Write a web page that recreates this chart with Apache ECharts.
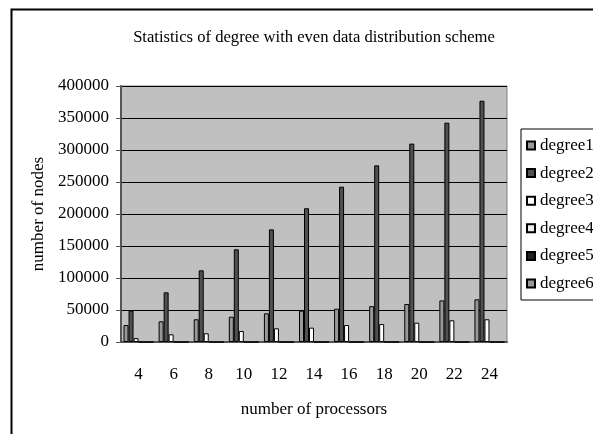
<!DOCTYPE html>
<html>
<head>
<meta charset="utf-8">
<script src="https://cdn.jsdelivr.net/npm/echarts@6/dist/echarts.min.js"></script>
<style>
html,body{margin:0;padding:0;background:#fff;}
#c{width:593px;height:434px;}
</style>
</head>
<body>
<div id="c"></div>
<script>
const categories = ['4','6','8','10','12','14','16','18','20','22','24'];
const degree1 = [26500, 32300, 35500, 39500, 44800, 49000, 52000, 56000, 59400, 65000, 66700];
const degree2 = [49000, 77600, 112000, 144800, 176000, 209000, 242700, 276000, 310000, 342700, 377000];
const degree3 = [6000, 12000, 13600, 17200, 21400, 22400, 26500, 28000, 30200, 33900, 35500];
const degree4 = [0,0,0,0,0,0,0,0,0,0,0];
const degree5 = [0,0,0,0,0,0,0,0,0,0,0];
const degree6 = [0,0,0,0,0,0,0,0,0,0,0];
const seriesNames = ['degree1','degree2','degree3','degree4','degree5','degree6'];
const seriesData = [degree1, degree2, degree3, degree4, degree5, degree6];
const colors = ['#999999','#505050','#ffffff','#eeeeee','#222222','#999999'];
const yTicks = {min: 0, max: 400000, interval: 50000};

const FF = 'Liberation Serif';
const chart = echarts.init(document.getElementById('c'), null, {renderer: 'canvas'});
chart.setOption({
  animation: false,
  backgroundColor: '#fff',
  title: {
    text: 'Statistics of degree with even data distribution scheme',
    left: 309, top: 24, textAlign: 'center',
    textStyle: {fontFamily: FF, fontSize: 16.6, fontWeight: 'normal', color: '#000'}
  },
  graphic: [{
    type: 'rect', left: 9, top: 7, shape: {width: 600, height: 440},
    style: {fill: 'none', stroke: '#000', lineWidth: 2}, silent: true, z: 100
  }],
  legend: {
    orient: 'vertical', left: 521, top: 129,
    backgroundColor: '#fff', borderColor: '#000', borderWidth: 1,
    padding: [8, 20, 8, 5],
    itemWidth: 8, itemHeight: 8, itemGap: 10.6,
    icon: 'rect',
    textStyle: {fontFamily: FF, fontSize: 17, color: '#000', lineHeight: 15},
    data: seriesNames
  },
  grid: {left: 121, top: 86, width: 386, height: 256, show: true, backgroundColor: '#c0c0c0', borderColor: '#808080', borderWidth: 1},
  xAxis: {
    type: 'category', data: categories,
    name: 'number of processors', nameLocation: 'middle', nameGap: 59,
    nameTextStyle: {fontFamily: FF, fontSize: 17, color: '#000'},
    axisLine: {lineStyle: {color: '#555', width: 2}},
    axisTick: {inside: true, length: 6, lineStyle: {color: '#333'}},
    axisLabel: {fontFamily: FF, fontSize: 17, color: '#000', margin: 24}
  },
  yAxis: {
    type: 'value', min: yTicks.min, max: yTicks.max, interval: yTicks.interval,
    name: 'number of nodes', nameLocation: 'middle', nameGap: 73,
    nameTextStyle: {fontFamily: FF, fontSize: 17, color: '#000'},
    axisLine: {show: true, lineStyle: {color: '#555', width: 2}},
    axisTick: {show: true, length: 5, lineStyle: {color: '#555'}},
    axisLabel: {fontFamily: FF, fontSize: 17, color: '#000', margin: 12, formatter: v => String(v)},
    splitLine: {lineStyle: {color: '#000', width: 1}}
  },
  series: seriesNames.map((n, i) => ({
    name: n, type: 'bar', data: seriesData[i],
    barWidth: 5, barGap: '0%',
    itemStyle: {color: colors[i], borderColor: '#000', borderWidth: 1}
  }))
});
</script>
</body>
</html>
